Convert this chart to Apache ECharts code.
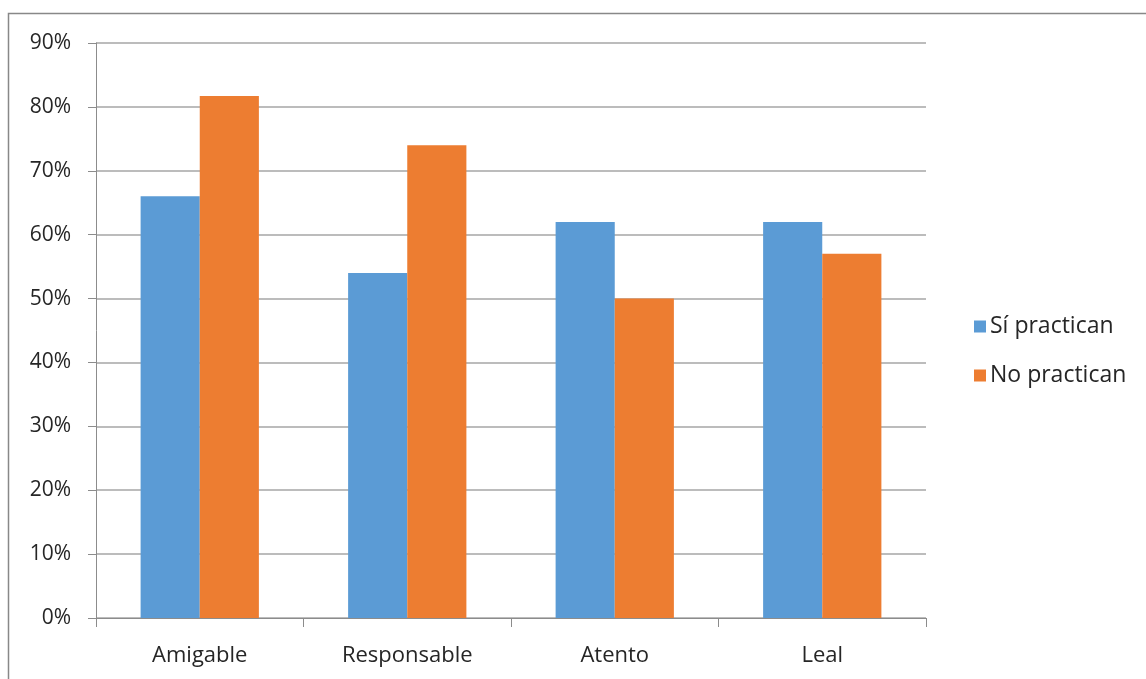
<!DOCTYPE html>
<html>
<head>
<meta charset="utf-8">
<script src="https://cdn.jsdelivr.net/npm/echarts@6/dist/echarts.min.js"></script>
<style>
  html, body { margin: 0; padding: 0; background: #ffffff; }
  #chart { width: 1146px; height: 679px; }
</style>
</head>
<body>
<div id="chart"></div>
<script>
// Categories and percentages per group
const categories = ['Amigable', 'Responsable', 'Atento', 'Leal'];
const siPractican = [66, 54, 62, 62];
const noPractican = [81.7, 74, 50, 57];
const seriesNames = ['Sí practican', 'No practican'];
const yTicks = [0, 10, 20, 30, 40, 50, 60, 70, 80, 90];

const FONT = '"Open Sans", "Noto Sans", sans-serif';
const TEXT_COLOR = '#262626';

const chart = echarts.init(document.getElementById('chart'), null, { renderer: 'canvas' });

chart.setOption({
  backgroundColor: '#ffffff',
  animation: false,
  graphic: [{
    type: 'rect',
    shape: { x: 8.5, y: 13.5, width: 1200, height: 700 },
    style: { fill: 'none', stroke: '#888888', lineWidth: 1.5 },
    silent: true
  }],
  grid: { left: 96, right: 220, top: 43, bottom: 61, containLabel: false },
  legend: {
    orient: 'vertical',
    left: 969,
    top: 310,
    itemWidth: 12,
    itemHeight: 12,
    itemGap: 26,
    icon: 'rect',
    textStyle: { fontFamily: FONT, fontSize: 23, color: TEXT_COLOR, padding: [0, 0, 0, -1] },
    data: seriesNames
  },
  xAxis: {
    type: 'category',
    data: categories,
    axisLine: { lineStyle: { color: '#8c8c8c', width: 1 } },
    axisTick: { show: true, length: 9, lineStyle: { color: '#8c8c8c' } },
    axisLabel: { fontFamily: FONT, fontSize: 22, color: TEXT_COLOR, margin: 27 }
  },
  yAxis: {
    type: 'value',
    min: 0,
    max: 90,
    interval: 10,
    axisLine: { show: true, lineStyle: { color: '#8c8c8c', width: 1 } },
    axisTick: { show: true, length: 8, lineStyle: { color: '#8c8c8c' } },
    axisLabel: {
      fontFamily: FONT, fontSize: 21, color: TEXT_COLOR, margin: 25,
      formatter: v => (yTicks.includes(v) ? v + '%' : '')
    },
    splitLine: { lineStyle: { color: '#a6a6a6', width: 1.5 } }
  },
  series: [
    {
      name: seriesNames[0],
      type: 'bar',
      data: siPractican,
      barGap: '0%',
      barCategoryGap: '43%',
      itemStyle: { color: '#5b9bd5' }
    },
    {
      name: seriesNames[1],
      type: 'bar',
      data: noPractican,
      barGap: '0%',
      barCategoryGap: '43%',
      itemStyle: { color: '#ed7d31' }
    }
  ]
});
</script>
</body>
</html>
